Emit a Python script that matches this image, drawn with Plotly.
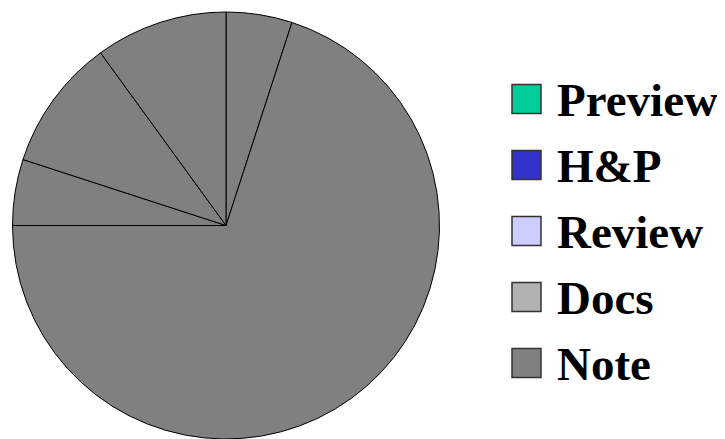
import plotly.graph_objects as go

categories = ["Preview", "H&P", "Review", "Docs", "Note"]
values = [5, 70, 5, 10, 10]
legend_colors = ["#00CC99", "#3333CC", "#CCCCFF", "#B2B2B2", "#808080"]
slice_color = "#808080"

W, H = 725, 439
OFF = 8  # page body margin offset in the browser

ML, MT = 12 - OFF, 12 - OFF
MB = H - (MT + 427)
plot_w = W - ML
plot_h = H - MT - MB

fig = go.Figure()
fig.add_trace(go.Pie(
    labels=categories,
    values=values,
    sort=False,
    direction="clockwise",
    rotation=0,
    marker=dict(colors=[slice_color] * len(values), line=dict(color="#000000", width=1)),
    textinfo="none",
    hoverinfo="label+percent",
    showlegend=False,
    domain=dict(x=[0, 428 / plot_w], y=[0, 1]),
))

def px(x):
    return (x - OFF - ML) / plot_w

def py(y):
    return 1 - (y - OFF - MT) / plot_h

# manual legend, positions in reference-page pixels
sq = 29
x0 = 512
y_first = 99
gap = 66
shapes = []
annotations = []
for i, (cat, col) in enumerate(zip(categories, legend_colors)):
    yc = y_first + i * gap
    shapes.append(dict(type="rect", xref="paper", yref="paper",
                       x0=px(x0), x1=px(x0 + sq), y0=py(yc + sq / 2), y1=py(yc - sq / 2),
                       fillcolor=col, line=dict(color="#333333", width=1.5)))
    annotations.append(dict(text="<b>%s</b>" % cat, xref="paper", yref="paper",
                            x=px(555), y=py(yc + 1), xanchor="left", yanchor="middle",
                            showarrow=False,
                            font=dict(family="Liberation Serif", size=47, color="#000000")))

fig.update_layout(
    width=W, height=H,
    margin=dict(l=ML, r=0, t=MT, b=MB),
    paper_bgcolor="white",
    plot_bgcolor="white",
    shapes=shapes,
    annotations=annotations,
    showlegend=False,
)

fig.write_html("out.html")
